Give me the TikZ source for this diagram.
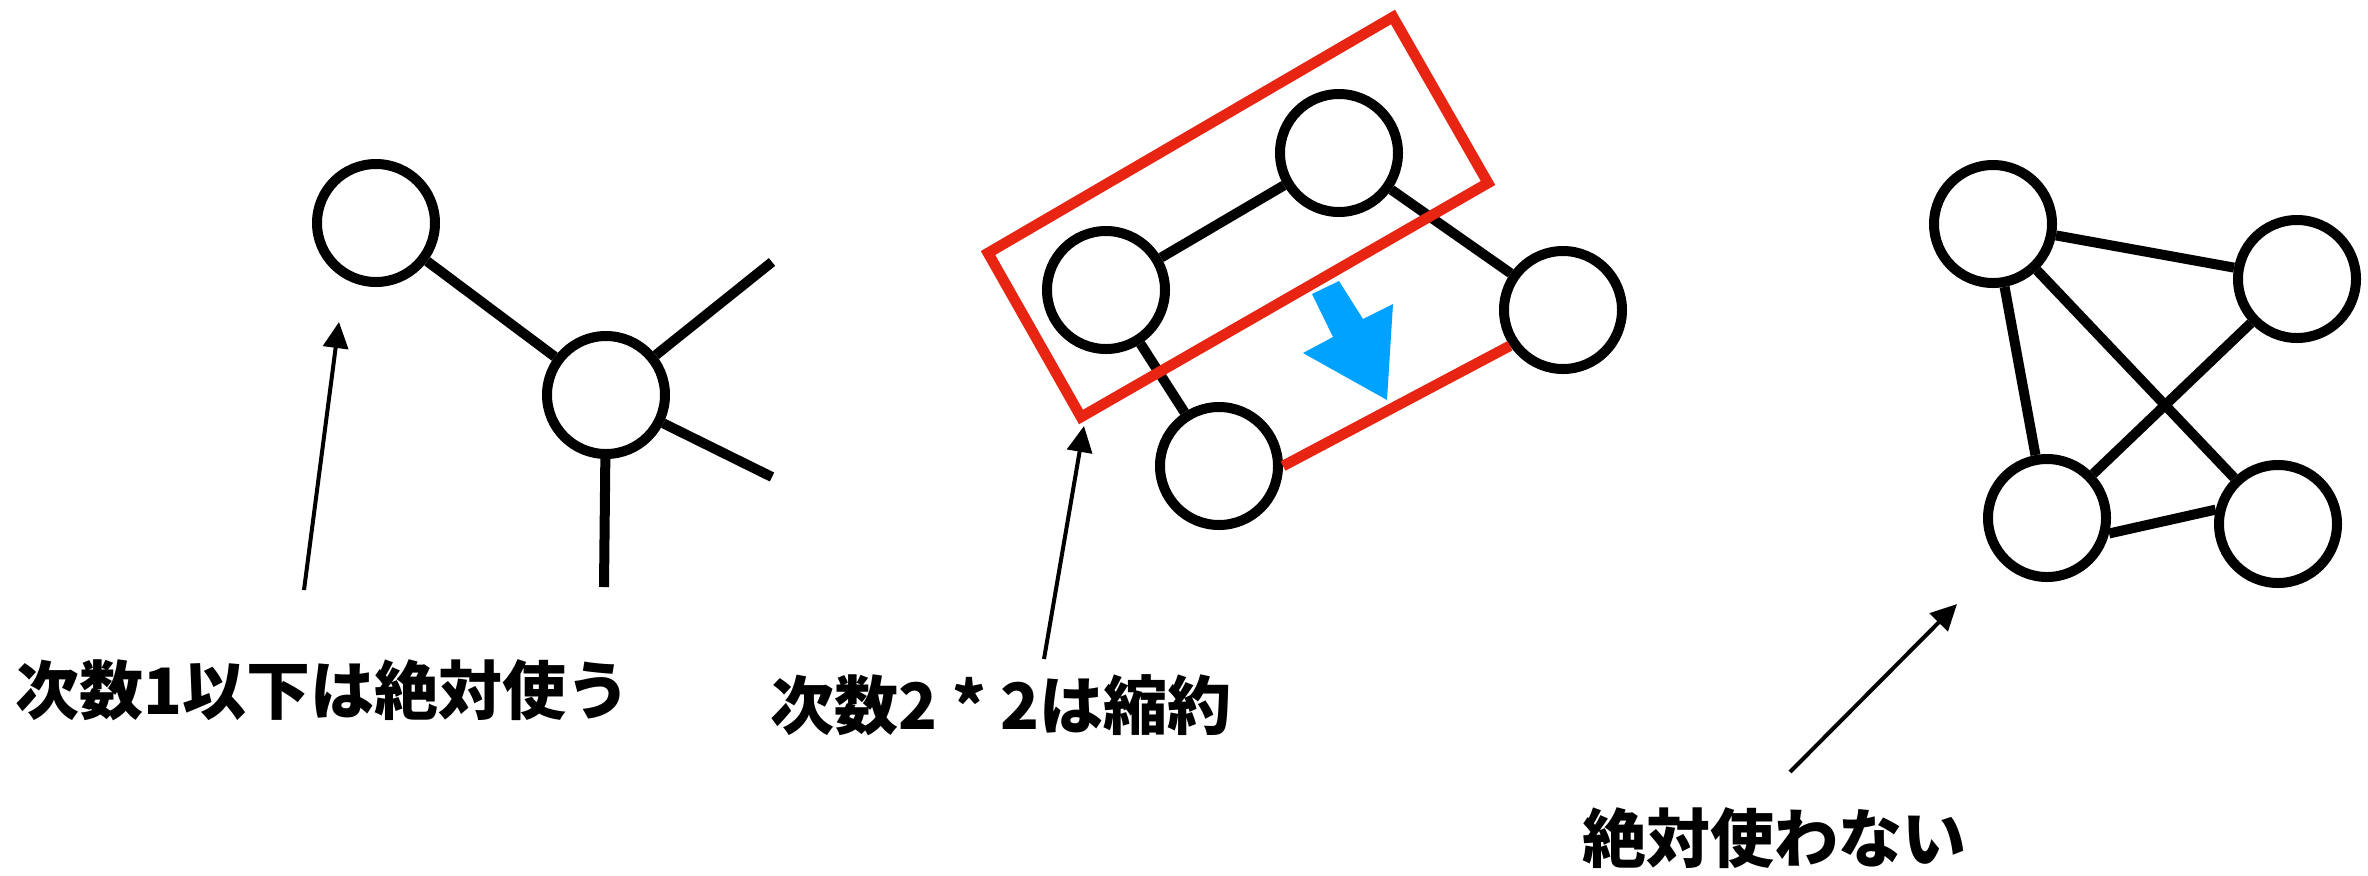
\documentclass[tikz,border=0pt]{standalone}
\usepackage{fontspec}
\newfontfamily\jpfont{Noto Sans CJK JP}
\usetikzlibrary{arrows.meta}
\definecolor{redbox}{RGB}{232,36,18}
\definecolor{bluearrow}{RGB}{0,162,255}
\begin{document}
\begin{tikzpicture}[x=0.5pt,y=-0.5pt,
  vtx/.style={circle,draw,line width=5pt,minimum size=59pt,inner sep=0pt,fill=white},
  link/.style={line width=5pt},
  redline/.style={draw=redbox,line width=5.3pt},
  pointer/.style={line width=2pt,-{Triangle[length=13pt,width=12.5pt]}},
  lbltext/.style={font=\jpfont\bfseries\fontsize{32pt}{36pt}\selectfont,inner sep=0pt}]
\useasboundingbox (0,0) rectangle (2368,875);
% left group
\node[vtx] (A) at (376,223) {};
\node[vtx] (B) at (606,395) {};
\coordinate (b1) at (772,262);
\coordinate (b2) at (772,477);
\coordinate (b3) at (604,587);
\draw[link] (A) -- (B);
\draw[link] (B) -- (b1);
\draw[link] (B) -- (b2);
\draw[link] (B) -- (b3);
\node[lbltext] (t1) at (323,690) {次数1以下は絶対使う};
\coordinate (a1s) at (304,590);
\coordinate (a1e) at (339,322);
\draw[pointer] (a1s) -- (a1e);
% middle group
\node[vtx] (C) at (1106,290) {};
\node[vtx] (D) at (1339,153) {};
\node[vtx] (E) at (1563,310) {};
\node[vtx] (F) at (1219,466) {};
\draw[link] (C) -- (D);
\draw[link] (D) -- (E);
\draw[link] (C) -- (F);
\draw[redline] (F.0) -- (E.214);
\coordinate (r1) at (988,253);
\coordinate (r2) at (1393,17);
\coordinate (r3) at (1488,183);
\coordinate (r4) at (1081,417);
\draw[redline] (r1) -- (r2) -- (r3) -- (r4) -- cycle;
\fill[bluearrow] (1312,294) -- (1339,281) -- (1363,319) -- (1393,304) -- (1387,400) -- (1303,353) -- (1333,337) -- cycle;
\node[lbltext] (t2) at (1001,705) {次数2 * 2は縮約};
\coordinate (a2s) at (1044,659);
\coordinate (a2e) at (1084,426);
\draw[pointer] (a2s) -- (a2e);
% right group
\node[vtx] (G) at (1993,224) {};
\node[vtx] (H) at (2297,279) {};
\node[vtx] (I) at (2047,518) {};
\node[vtx] (J) at (2278,524) {};
\draw[link] (G) -- (H);
\draw[link] (G) -- (I);
\draw[link] (G) -- (J);
\draw[link] (H) -- (I);
\draw[link] (I.-14) -- (J.167);
\node[lbltext] (t3) at (1774,838) {絶対使わない};
\coordinate (a3s) at (1790,772);
\coordinate (a3e) at (1957,604);
\draw[pointer] (a3s) -- (a3e);
\end{tikzpicture}
\end{document}
